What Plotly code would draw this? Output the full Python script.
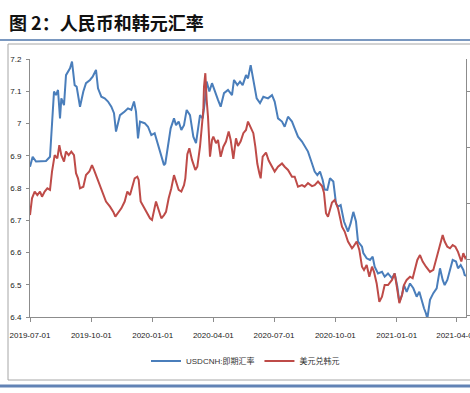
import pandas as pd
import plotly.graph_objects as go

START = "2019-07-01"

# ---- data (day offset from 2019-07-01, value) ----
cnh_days = [0, 4, 9, 16, 24, 30, 33, 36, 39, 42, 45, 47, 51, 54, 60, 63, 67, 70, 75, 80,
            84, 90, 94, 99, 102, 107, 112, 117, 122, 126, 129, 135, 142, 147, 152, 156, 159, 162, 165, 172,
            177, 182, 187, 192, 197, 201, 203, 207, 211, 216, 219, 223, 227, 231, 235, 240, 245, 249, 255, 259,
            262, 265, 269, 273, 277, 282, 286, 291, 297, 303, 306, 311, 315, 319, 324, 327, 331, 335, 340, 345,
            350, 357, 363, 367, 372, 378, 382, 387, 393, 397, 402, 408, 412, 417, 423, 427, 431, 435, 439, 442,
            446, 450, 455, 459, 462, 466, 471, 477, 481, 485, 489, 492, 498, 500, 505, 510, 514, 517, 522, 528,
            532, 537, 543, 547, 551, 554, 558, 561, 565, 570, 575, 580, 584, 588, 591, 594, 596, 600, 605, 610,
            615, 619, 622, 626, 630, 634, 639, 642, 646, 650, 652, 657]
cnh_vals = [6.866, 6.897, 6.882, 6.884, 6.884, 6.897, 7.006, 7.099, 7.088, 7.104, 7.016, 7.078, 7.057, 7.150, 7.171, 7.192, 7.119, 7.114, 7.052, 7.099,
            7.125, 7.135, 7.145, 7.166, 7.109, 7.083, 7.078, 7.068, 7.052, 7.032, 6.975, 7.026, 7.037, 7.047, 7.042, 7.068, 7.037, 6.954, 7.006, 7.001,
            6.990, 6.964, 6.970, 6.933, 6.897, 6.871, 6.876, 6.939, 6.985, 7.016, 6.995, 7.006, 6.980, 6.995, 7.042, 7.026, 6.959, 6.939, 7.026, 7.016,
            7.063, 7.130, 7.099, 7.125, 7.099, 7.073, 7.052, 7.094, 7.104, 7.088, 7.135, 7.119, 7.130, 7.119, 7.150, 7.140, 7.181, 7.130, 7.078, 7.063,
            7.083, 7.078, 7.088, 7.068, 7.016, 7.006, 6.990, 7.021, 7.006, 6.985, 6.959, 6.944, 6.928, 6.913, 6.876, 6.851, 6.840, 6.851, 6.825, 6.795,
            6.794, 6.830, 6.820, 6.752, 6.742, 6.747, 6.696, 6.665, 6.691, 6.726, 6.696, 6.634, 6.618, 6.598, 6.582, 6.577, 6.587, 6.556, 6.535, 6.540,
            6.525, 6.535, 6.520, 6.535, 6.494, 6.447, 6.468, 6.499, 6.478, 6.504, 6.489, 6.463, 6.478, 6.447, 6.427, 6.411, 6.395, 6.453, 6.474, 6.489,
            6.551, 6.515, 6.499, 6.515, 6.546, 6.577, 6.572, 6.551, 6.561, 6.546, 6.530, 6.525]

krw_days = [0, 3, 7, 11, 15, 18, 22, 26, 30, 33, 37, 41, 44, 47, 51, 54, 58, 62, 66, 69,
            72, 75, 80, 84, 89, 93, 96, 99, 103, 107, 111, 114, 120, 125, 128, 132, 137, 142, 146, 150,
            153, 157, 161, 163, 166, 170, 174, 180, 183, 186, 189, 193, 197, 201, 204, 208, 212, 216, 219, 223,
            227, 231, 233, 236, 239, 243, 248, 251, 255, 258, 260, 261, 263, 265, 267, 270, 273, 275, 279, 282,
            286, 290, 294, 298, 301, 305, 309, 312, 316, 320, 324, 327, 331, 335, 338, 341, 344, 346, 349, 354,
            358, 363, 367, 372, 378, 382, 387, 393, 397, 402, 408, 412, 417, 423, 427, 432, 438, 441, 444, 447,
            453, 457, 462, 468, 472, 477, 483, 485, 490, 494, 498, 501, 505, 509, 513, 516, 520, 524, 528, 532,
            537, 543, 547, 551, 554, 558, 561, 565, 570, 574, 578, 581, 585, 589, 594, 600, 605, 609, 612, 616,
            619, 622, 626, 630, 634, 638, 642, 647, 650, 653, 657]
krw_vals = [6.716, 6.768, 6.789, 6.778, 6.789, 6.773, 6.789, 6.799, 6.794, 6.851, 6.902, 6.892, 6.933, 6.902, 6.882, 6.913, 6.902, 6.913, 6.902, 6.846,
            6.830, 6.799, 6.804, 6.840, 6.851, 6.871, 6.856, 6.840, 6.820, 6.799, 6.778, 6.758, 6.742, 6.726, 6.711, 6.722, 6.737, 6.758, 6.789, 6.778,
            6.799, 6.830, 6.835, 6.825, 6.758, 6.742, 6.726, 6.706, 6.701, 6.726, 6.758, 6.732, 6.706, 6.716, 6.726, 6.768, 6.799, 6.840, 6.820, 6.794,
            6.789, 6.809, 6.830, 6.905, 6.923, 6.887, 6.856, 6.866, 6.928, 6.990, 7.042, 7.114, 7.156, 7.073, 7.021, 6.897, 6.949, 6.959, 6.939, 6.949,
            6.897, 6.928, 6.944, 6.975, 6.949, 6.890, 6.954, 6.930, 6.945, 6.970, 6.980, 7.006, 6.990, 6.970, 6.928, 6.875, 6.846, 6.830, 6.897, 6.910,
            6.885, 6.868, 6.851, 6.866, 6.876, 6.866, 6.856, 6.835, 6.835, 6.804, 6.809, 6.804, 6.815, 6.806, 6.809, 6.820, 6.806, 6.785, 6.722, 6.711,
            6.755, 6.763, 6.737, 6.680, 6.665, 6.634, 6.613, 6.618, 6.634, 6.608, 6.556, 6.546, 6.561, 6.525, 6.556, 6.540, 6.504, 6.447, 6.463, 6.499,
            6.499, 6.515, 6.535, 6.484, 6.443, 6.468, 6.499, 6.515, 6.525, 6.520, 6.551, 6.577, 6.592, 6.572, 6.556, 6.540, 6.546, 6.577, 6.598, 6.629,
            6.654, 6.634, 6.618, 6.613, 6.623, 6.618, 6.602, 6.572, 6.598, 6.582, 6.590]

x_ticks = ["2019-07-01", "2019-10-01", "2020-01-01", "2020-04-01",
           "2020-07-01", "2020-10-01", "2021-01-01", "2021-04-01"]
y_ticks = [6.4, 6.5, 6.6, 6.7, 6.8, 6.9, 7.0, 7.1, 7.2]
x_end = "2021-04-15"

names = ["USDCNH:即期汇率", "美元兑韩元"]
colors = ["#4A7EBB", "#BE4B48"]

start = pd.Timestamp(START)
cnh_dates = start + pd.to_timedelta(cnh_days, unit="D")
krw_dates = start + pd.to_timedelta(krw_days, unit="D")

TICKFONT = dict(family="Liberation Sans, Arial, sans-serif", size=8, color="#222222")

fig = go.Figure()
fig.add_trace(go.Scatter(x=cnh_dates, y=cnh_vals, mode="lines", name=names[0],
                         line=dict(color=colors[0], width=2)))
fig.add_trace(go.Scatter(x=krw_dates, y=krw_vals, mode="lines", name=names[1],
                         line=dict(color=colors[1], width=2), yaxis="y2"))

W, H = 470, 393
L, R, T, B = 30, 4, 59, 76
pw, ph = W - L - R, H - T - B

def px(xp):
    return (xp - L) / pw

def py(yp):
    return (H - B - yp) / ph

fig.update_layout(
    width=W, height=H,
    margin=dict(l=L, r=R, t=T, b=B, autoexpand=False),
    paper_bgcolor="white", plot_bgcolor="white",
    showlegend=True,
    legend=dict(orientation="h", x=px(146), y=py(361), xanchor="left", yanchor="middle",
                font=dict(family="Liberation Sans, Noto Sans CJK SC, sans-serif", size=8, color="#333333"),
                bgcolor="rgba(0,0,0,0)", itemwidth=30, tracegroupgap=0),
    xaxis=dict(type="date", range=[START, x_end], tickvals=x_ticks, tickformat="%Y-%m-%d",
               showgrid=False, zeroline=False, showline=True, linecolor="#8C8C8C", linewidth=1,
               ticks="outside", ticklen=4, tickcolor="#8C8C8C", tickfont=TICKFONT,
               ticklabelstandoff=6, ticklabeloverflow="allow", automargin=False),
    yaxis=dict(range=[6.4, 7.2], tickvals=y_ticks, showgrid=False, zeroline=False,
               showline=True, linecolor="#8C8C8C", linewidth=1, ticks="outside", ticklen=3,
               tickcolor="#8C8C8C", tickfont=TICKFONT, ticklabelstandoff=3, automargin=False),
    yaxis2=dict(range=[6.4, 7.2], overlaying="y", side="right", anchor="x",
                tickvals=[6.406, 6.579, 6.753, 6.926, 7.1], showticklabels=False,
                showgrid=False, zeroline=False, showline=True, linecolor="#8C8C8C", linewidth=1,
                ticks="outside", ticklen=3, tickcolor="#8C8C8C", automargin=False),
    shapes=[
        dict(type="line", xref="paper", yref="paper", x0=px(0), x1=px(W), y0=py(40), y1=py(40),
             line=dict(color="#7A98C0", width=2)),
        dict(type="rect", xref="paper", yref="paper", x0=px(8), x1=px(W + 10), y0=py(380), y1=py(44),
             line=dict(color="#A6A6A6", width=1)),
        dict(type="line", xref="paper", yref="paper", x0=px(0), x1=px(W), y0=py(386), y1=py(386),
             line=dict(color="#6283B5", width=3)),
    ],
    annotations=[
        dict(text="<b>图 2：人民币和韩元汇率</b>", xref="paper", yref="paper", x=px(7), y=py(22),
             xanchor="left", yanchor="middle", showarrow=False,
             font=dict(family="Noto Sans CJK SC, sans-serif", size=18, color="#111111")),
    ],
)

fig.write_html("out.html",
               config={"displayModeBar": False},
               post_script="document.body.style.margin='0px';document.body.style.overflow='hidden';")
